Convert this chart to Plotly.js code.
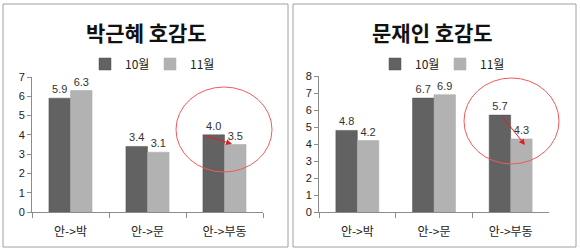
<!DOCTYPE html>
<html><head><meta charset="utf-8">
<script src="https://cdn.plot.ly/plotly-3.0.1.min.js"></script>
<style>html,body{margin:0;padding:0;background:#fff}#c{width:580px;height:249px}</style>
</head><body><div id="c"></div>
<script>
const categories = ['안->박', '안->문', '안->부동'];
const seriesNames = ['10월', '11월'];
const parkOct = [5.9, 3.4, 4.0];
const parkNov = [6.3, 3.1, 3.5];
const moonOct = [4.8, 6.7, 5.7];
const moonNov = [4.2, 6.9, 4.3];
const titles = ['박근혜 호감도', '문재인 호감도'];

const W = 580, H = 249;
const px = v => v / W, py = v => (H - v) / H;
const FONT = 'Liberation Sans, Noto Sans CJK KR, sans-serif';
const KFONT = 'Noto Sans CJK KR, sans-serif';
const dark = '#626262', light = '#b2b2b2';

function bar(y, name, color, xa, ya, leg, show) {
  return {type: 'bar', x: categories, y: y, name: name, xaxis: xa, yaxis: ya, legend: leg,
    showlegend: show, marker: {color: color, line: {color: color === dark ? '#505050' : '#a8a8a8', width: 0.5}},
    text: y.map(v => v.toFixed(1)), textposition: 'outside', cliponaxis: false,
    textfont: {family: FONT, size: 11, color: '#333'}, hoverinfo: 'skip'};
}
const data = [
  bar(parkOct, seriesNames[0], dark, 'x', 'y', 'legend', true),
  bar(parkNov, seriesNames[1], light, 'x', 'y', 'legend', true),
  bar(moonOct, seriesNames[0], dark, 'x2', 'y2', 'legend2', true),
  bar(moonNov, seriesNames[1], light, 'x2', 'y2', 'legend2', true)
];
const xcommon = {type: 'category', showline: true, linecolor: '#8c8c8c', linewidth: 1, ticks: 'outside',
  tickson: 'boundaries', ticklen: 5, tickcolor: '#8c8c8c', showgrid: false, zeroline: false,
  ticklabelstandoff: 9,
  tickfont: {family: KFONT, size: 12, color: '#222'}, fixedrange: true};
const ycommon = {showline: true, linecolor: '#8c8c8c', linewidth: 1, ticks: 'outside', ticklen: 4,
  tickcolor: '#8c8c8c', showgrid: false, zeroline: false, dtick: 1,
  tickfont: {family: FONT, size: 11, color: '#222'}, fixedrange: true};
const legcommon = {orientation: 'h', xanchor: 'center', yanchor: 'middle', font: {family: KFONT, size: 12, color: '#222'},
  itemwidth: 30, entrywidth: 20, entrywidthmode: 'pixels', tracegroupgap: 0, bgcolor: 'rgba(0,0,0,0)'};
const layout = {
  width: W, height: H, margin: {l: 0, r: 0, t: 0, b: 0}, paper_bgcolor: '#fff', plot_bgcolor: '#fff',
  barmode: 'group', bargap: 0.44, bargroupgap: 0,
  xaxis: Object.assign({}, xcommon, {domain: [px(32), px(263)], anchor: 'y'}),
  yaxis: Object.assign({}, ycommon, {domain: [py(212), py(77)], range: [0, 7], anchor: 'x'}),
  xaxis2: Object.assign({}, xcommon, {domain: [px(319), px(549)], anchor: 'y2'}),
  yaxis2: Object.assign({}, ycommon, {domain: [py(212), py(76)], range: [0, 8], anchor: 'x2'}),
  legend: Object.assign({}, legcommon, {x: px(150), y: py(64)}),
  legend2: Object.assign({}, legcommon, {x: px(440), y: py(64)}),
  shapes: [
    {type: 'rect', xref: 'paper', yref: 'paper', x0: px(3), x1: px(288), y0: py(247), y1: py(4), line: {color: '#a0a0a0', width: 1}},
    {type: 'rect', xref: 'paper', yref: 'paper', x0: px(293), x1: px(576), y0: py(247), y1: py(4), line: {color: '#a0a0a0', width: 1}},
    {type: 'circle', xref: 'paper', yref: 'paper', x0: px(176), x1: px(272), y0: py(172), y1: py(87), line: {color: '#f05a5a', width: 1}},
    {type: 'circle', xref: 'paper', yref: 'paper', x0: px(464), x1: px(559), y0: py(164), y1: py(78), line: {color: '#f05a5a', width: 1}}
  ],
  annotations: [
    {text: '<b>' + titles[0] + '</b>', xref: 'paper', yref: 'paper', x: px(146), y: py(32), showarrow: false,
      font: {family: KFONT, size: 21, color: '#111'}, xanchor: 'center', yanchor: 'middle'},
    {text: '<b>' + titles[1] + '</b>', xref: 'paper', yref: 'paper', x: px(432), y: py(32), showarrow: false,
      font: {family: KFONT, size: 21, color: '#111'}, xanchor: 'center', yanchor: 'middle'},
    {text: '', xref: 'paper', yref: 'paper', x: px(232), y: py(144), ax: -29, ay: -9, showarrow: true,
      arrowhead: 2, arrowsize: 1.2, arrowwidth: 1, arrowcolor: '#e02020'},
    {text: '', xref: 'paper', yref: 'paper', x: px(525), y: py(145), ax: -24, ay: -30, showarrow: true,
      arrowhead: 2, arrowsize: 1.2, arrowwidth: 1, arrowcolor: '#e02020'}
  ]
};
Plotly.newPlot('c', data, layout, {displayModeBar: false, staticPlot: true});
</script></body></html>
